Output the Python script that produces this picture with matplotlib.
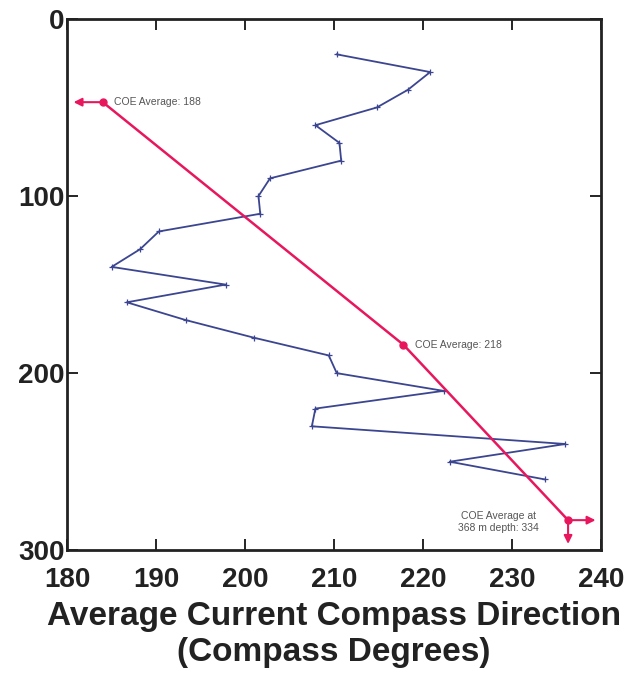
import matplotlib.pyplot as plt

plt.rcParams['font.family'] = ['Liberation Sans', 'DejaVu Sans']

# measured current direction by depth
depth = [20, 30, 40, 50, 60, 70, 80, 90, 100, 110, 120, 130, 140,
         150, 160, 170, 180, 190, 200, 210, 220, 230, 240, 250, 260]
direction = [210.3, 220.8, 218.3, 214.8, 207.9, 210.6, 210.8, 202.8, 201.5,
             201.7, 190.3, 188.2, 185.0, 197.8, 186.7, 193.3, 201.0, 209.4,
             210.3, 222.3, 207.9, 207.5, 236.0, 223.0, 233.7]

# COE averages
coe_depth = [47, 184, 283]
coe_dir = [184.0, 217.8, 236.3]
coe_labels = ['COE Average: 188', 'COE Average: 218',
              'COE Average at\n368 m depth: 334']

pink = '#e8175d'
blue = '#3b4590'

fig = plt.figure(figsize=(6.28, 6.76), dpi=100)
ax = fig.add_axes([0.107, 0.186, 0.850, 0.786])

ax.plot(direction, depth, color=blue, linewidth=1.3, marker='+',
        markersize=4, markeredgewidth=0.9)

ax.plot(coe_dir, coe_depth, color=pink, linewidth=1.8)
ax.plot(coe_dir, coe_depth, 'o', color=pink, markersize=5)

# arrows from the top and bottom averages to the axes
arrow = dict(arrowstyle='-|>', color=pink, lw=1.5, mutation_scale=12)
ax.annotate('', xy=(180.4, coe_depth[0]), xytext=(coe_dir[0], coe_depth[0]),
            arrowprops=arrow)
ax.annotate('', xy=(239.7, coe_depth[2]), xytext=(coe_dir[2], coe_depth[2]),
            arrowprops=arrow)
ax.annotate('', xy=(coe_dir[2], 298), xytext=(coe_dir[2], coe_depth[2]),
            arrowprops=arrow)

ax.text(coe_dir[0] + 1.3, coe_depth[0], coe_labels[0], fontsize=7.5,
        color='#555555', va='center', ha='left')
ax.text(coe_dir[1] + 1.3, coe_depth[1], coe_labels[1], fontsize=7.5,
        color='#555555', va='center', ha='left')
ax.text(coe_dir[2] - 3.3, coe_depth[2] + 1, coe_labels[2], fontsize=7.5,
        color='#555555', va='center', ha='right', multialignment='center')

ax.set_xlim(180, 240)
ax.set_ylim(300, 0)
ax.set_xticks([180, 190, 200, 210, 220, 230, 240])
ax.set_yticks([0, 100, 200, 300])
ax.tick_params(direction='in', length=8, width=1.2, top=True, right=True,
               labelsize=20)
ax.tick_params(axis='x', pad=12)
ax.tick_params(axis='y', pad=2)
for lab in ax.get_xticklabels() + ax.get_yticklabels():
    lab.set_fontweight('bold')
    lab.set_color('#222222')
for sp in ax.spines.values():
    sp.set_linewidth(2)
    sp.set_color('#222222')

ax.set_xlabel('Average Current Compass Direction\n(Compass Degrees)',
              fontsize=24, fontweight='bold', color='#222222', labelpad=6,
              linespacing=1.2)

plt.savefig('out.png', dpi=100)
